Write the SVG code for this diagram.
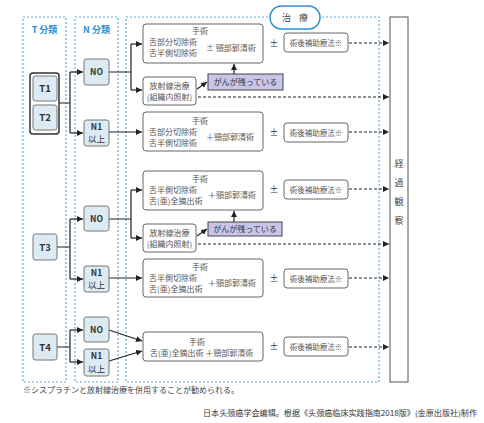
<svg xmlns="http://www.w3.org/2000/svg" width="484" height="423" viewBox="0 0 484 423">
<style>
text{font-family:"Noto Sans CJK JP","Noto Sans",sans-serif;font-size:8px;fill:#555}
.reg{fill:none;stroke:#5aaee0;stroke-width:1.2;stroke-dasharray:2 2}
.hd{fill:#2d8fd0;font-weight:bold;font-size:9px}
.nd{fill:#dcebf3;stroke:#777;stroke-width:1}
.nt{fill:#333;font-weight:bold;font-size:8.5px;text-anchor:middle}
.tt{fill:#333;font-weight:bold;font-size:9.5px;text-anchor:middle}
.bx{fill:#fff;stroke:#666;stroke-width:1}
.gb{fill:#c9c5e8;stroke:#444;stroke-width:1}
.c{text-anchor:middle}
.ln{fill:none;stroke:#222;stroke-width:1.2}
.ar{fill:none;stroke:#222;stroke-width:1.2;marker-end:url(#a)}
.da{fill:none;stroke:#222;stroke-width:1.2;stroke-dasharray:3 2;marker-end:url(#a)}
.pm{fill:#333;font-size:9px;text-anchor:middle}
.sm{font-size:7.5px;text-anchor:middle}
</style>
<defs>
<marker id="a" viewBox="0 0 6 6" refX="6" refY="3" markerWidth="6" markerHeight="6" markerUnits="userSpaceOnUse" orient="auto"><path d="M0,0 L6,3 L0,6 Z" fill="#222"/></marker>
</defs>

<g id="regions">
<rect class="reg" x="23" y="17" width="43" height="365"/>
<rect class="reg" x="75" y="17" width="43" height="365"/>
<rect class="reg" x="126" y="17" width="253" height="365"/>
<text class="hd c" x="44.5" y="33">T 分類</text>
<text class="hd c" x="96.5" y="33">N 分類</text>
</g>
<g id="treat-label">
<rect x="270" y="6" width="50" height="23" rx="11.5" fill="#fff" stroke="#2d8fd0" stroke-width="1.5"/>
<text class="c" x="296.5" y="21" style="font-size:9px;fill:#444;letter-spacing:3px">治 療</text>
</g>

<g id="observe">
<rect x="390" y="17" width="18" height="365" fill="#fff" stroke="#555" stroke-width="1"/>
<text class="c" x="399" y="167" style="font-size:9px;fill:#444">経</text>
<text class="c" x="399" y="186" style="font-size:9px;fill:#444">過</text>
<text class="c" x="399" y="205" style="font-size:9px;fill:#444">観</text>
<text class="c" x="399" y="224" style="font-size:9px;fill:#444">察</text>
</g>

<g id="connectors">
<path class="ln" d="M59,103 H70 M70,72 V133"/>
<path class="ar" d="M70,72 H83"/>
<path class="ar" d="M70,133 H83"/>
<path class="ln" d="M109,72 H131 M131,44 V90"/>
<path class="ar" d="M131,44 H142"/>
<path class="ar" d="M131,90 H142"/>
<path class="ar" d="M197,89 L207,82"/>
<path class="ar" d="M234,74 V64"/>
<path class="da" d="M198,97 H389"/>
<path class="da" d="M349,43 H389"/>
<path class="ar" d="M109,132 H142"/>
<path class="da" d="M349,132 H389"/>

<path class="ln" d="M57,247 H70 M70,219 V279"/>
<path class="ar" d="M70,219 H83"/>
<path class="ar" d="M70,279 H83"/>
<path class="ln" d="M109,219 H131 M131,190 V238"/>
<path class="ar" d="M131,190 H142"/>
<path class="ar" d="M131,238 H142"/>
<path class="ar" d="M197,236 L207,229"/>
<path class="ar" d="M234,222 V211"/>
<path class="da" d="M198,244 H389"/>
<path class="da" d="M349,189 H389"/>
<path class="ar" d="M109,278 H142"/>
<path class="da" d="M349,278 H389"/>

<path class="ln" d="M57,347 H70 M70,330 V362"/>
<path class="ar" d="M70,330 H83"/>
<path class="ar" d="M70,362 H83"/>
<path class="ar" d="M109,330 L142,341"/>
<path class="ar" d="M109,361 L142,351"/>
<path class="da" d="M349,347 H389"/>
</g>

<g id="t12">
<rect x="30" y="73" width="29" height="61" rx="3" fill="#fff" stroke="#333" stroke-width="1.5"/>
<rect class="nd" x="33" y="76" width="24" height="25" rx="2.5"/>
<text class="tt" x="45" y="92">T1</text>
<rect class="nd" x="33" y="105" width="24" height="25" rx="2.5"/>
<text class="tt" x="45" y="121">T2</text>
</g>
<g id="t3"><rect class="nd" x="33" y="234" width="24" height="26" rx="2.5"/><text class="tt" x="45" y="250.5">T3</text></g>
<g id="t4"><rect class="nd" x="33" y="334" width="24" height="26" rx="2.5"/><text class="tt" x="45" y="350.5">T4</text></g>

<g id="n0-a"><rect class="nd" x="84" y="59" width="25" height="26" rx="2.5"/><text class="nt" x="96.5" y="75">NO</text></g>
<g id="n1-a"><rect class="nd" x="84" y="120" width="25" height="26" rx="2.5"/><text class="nt" x="96.5" y="130">N1</text><text class="nt" x="96.5" y="142" style="font-weight:normal">以上</text></g>
<g id="n0-b"><rect class="nd" x="84" y="206" width="25" height="25" rx="2.5"/><text class="nt" x="96.5" y="222">NO</text></g>
<g id="n1-b"><rect class="nd" x="84" y="266" width="25" height="26" rx="2.5"/><text class="nt" x="96.5" y="276">N1</text><text class="nt" x="96.5" y="288" style="font-weight:normal">以上</text></g>
<g id="n0-c"><rect class="nd" x="84" y="317" width="25" height="25" rx="2.5"/><text class="nt" x="96.5" y="333">NO</text></g>
<g id="n1-c"><rect class="nd" x="84" y="349" width="25" height="27" rx="2.5"/><text class="nt" x="96.5" y="359">N1</text><text class="nt" x="96.5" y="372" style="font-weight:normal">以上</text></g>

<g id="surg1">
<rect class="bx" x="143" y="24" width="120" height="39" rx="3"/>
<text class="c" x="200" y="34">手術</text>
<text x="149" y="45">舌部分切除術</text>
<text x="149" y="56">舌半側切除術</text>
<text x="206" y="51">± 頸部郭清術</text>
</g>
<g id="rad1">
<rect class="bx" x="143" y="77" width="53" height="28" rx="3"/>
<text class="c" x="169.5" y="89">放射線治療</text>
<text class="c" x="169.5" y="100">(組織内照射)</text>
</g>
<g id="res1"><rect class="gb" x="208" y="74" width="75" height="16"/><text class="c" x="245.5" y="85" style="fill:#333">がんが残っている</text></g>
<g id="adj1"><text class="pm" x="274" y="47">±</text><rect class="bx" x="284" y="33" width="64" height="19" rx="3"/><text class="sm" x="316" y="45.5">術後補助療法※</text></g>

<g id="surg2">
<rect class="bx" x="143" y="112" width="120" height="39" rx="3"/>
<text class="c" x="200" y="124">手術</text>
<text x="149" y="135">舌部分切除術</text>
<text x="149" y="146">舌半側切除術</text>
<text x="206" y="140">＋頸部郭清術</text>
</g>
<g id="adj2"><text class="pm" x="274" y="136">±</text><rect class="bx" x="284" y="123" width="64" height="19" rx="3"/><text class="sm" x="316" y="135.5">術後補助療法※</text></g>

<g id="surg3">
<rect class="bx" x="143" y="171" width="120" height="39" rx="3"/>
<text class="c" x="200" y="182">手術</text>
<text x="149" y="193">舌半側切除術</text>
<text x="149" y="204">舌(亜)全摘出術</text>
<text x="208" y="198">＋頸部郭清術</text>
</g>
<g id="rad2">
<rect class="bx" x="143" y="224" width="53" height="28" rx="3"/>
<text class="c" x="169.5" y="236">放射線治療</text>
<text class="c" x="169.5" y="247">(組織内照射)</text>
</g>
<g id="res2"><rect class="gb" x="208" y="222" width="74" height="14"/><text class="c" x="245" y="232" style="fill:#333">がんが残っている</text></g>
<g id="adj3"><text class="pm" x="274" y="193">±</text><rect class="bx" x="284" y="180" width="64" height="19" rx="3"/><text class="sm" x="316" y="192.5">術後補助療法※</text></g>

<g id="surg4">
<rect class="bx" x="143" y="259" width="120" height="38" rx="3"/>
<text class="c" x="200" y="270">手術</text>
<text x="149" y="281">舌半側切除術</text>
<text x="149" y="292">舌(亜)全摘出術</text>
<text x="208" y="286">＋頸部郭清術</text>
</g>
<g id="adj4"><text class="pm" x="274" y="282">±</text><rect class="bx" x="284" y="269" width="64" height="19" rx="3"/><text class="sm" x="316" y="281.5">術後補助療法※</text></g>

<g id="surg5">
<rect class="bx" x="143" y="332" width="120" height="29" rx="3"/>
<text class="c" x="197" y="345">手術</text>
<text x="150" y="356">舌(亜)全摘出術 ＋頸部郭清術</text>
</g>
<g id="adj5"><text class="pm" x="274" y="350">±</text><rect class="bx" x="284" y="337" width="64" height="19" rx="3"/><text class="sm" x="316" y="349.5">術後補助療法※</text></g>

<g id="notes">
<text x="23" y="393" style="fill:#444">※シスプラチンと放射線治療を併用することが勧められる。</text>
<text x="203" y="416" textLength="274" lengthAdjust="spacingAndGlyphs" style="fill:#333;font-family:'Noto Sans CJK SC','Noto Sans',sans-serif">日本头颈癌学会编辑。根据《头颈癌临床实践指南2018版》(金原出版社)制作</text>
</g>
</svg>
